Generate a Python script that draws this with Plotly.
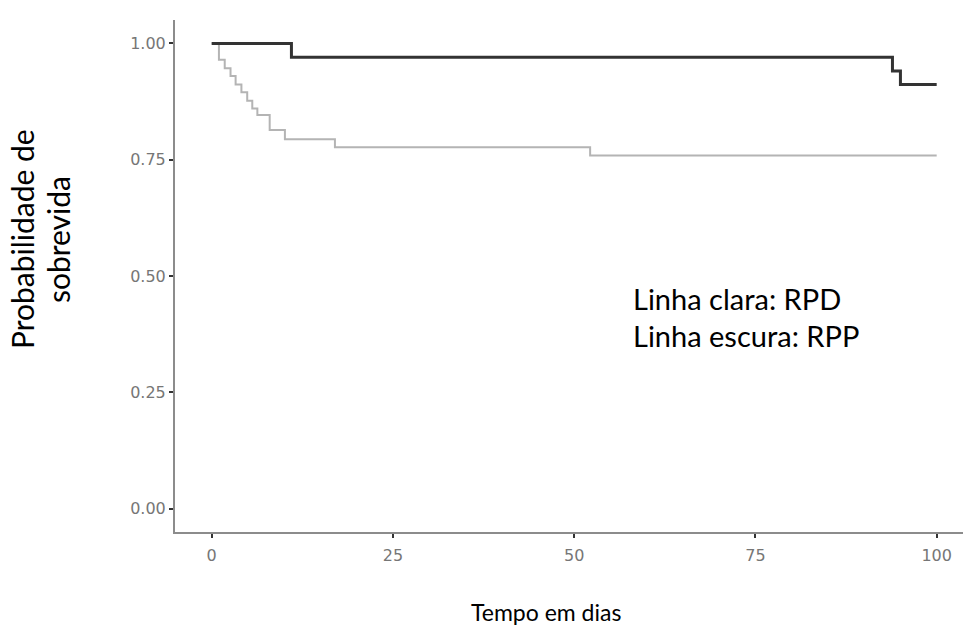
import plotly.graph_objects as go

# Kaplan-Meier curves
tempo_rpd = [0, 1.0, 1.8, 2.6, 3.3, 4.1, 4.9, 5.6, 6.3, 8.0, 10.1, 17.0, 52.2, 100]
surv_rpd = [1.0, 0.965, 0.947, 0.930, 0.912, 0.895, 0.877, 0.860, 0.846, 0.814, 0.794, 0.777, 0.759, 0.759]

tempo_rpp = [0, 11.0, 93.9, 95.0, 100]
surv_rpp = [1.0, 0.9706, 0.941, 0.912, 0.912]

x_ticks = [0, 25, 50, 75, 100]
x_ticktext = ["0", "25", "50", "75", "100"]
y_ticks = [0, 0.25, 0.5, 0.75, 1.0]
y_ticktext = ["0.00", "0.25", "0.50", "0.75", "1.00"]

x_title = "Tempo em dias"
y_title_lines = ["Probabilidade de", "sobrevida"]
legend_lines = ["Linha clara: RPD", "Linha escura: RPP"]

W, H = 963, 628
ML, MR, MT, MB = 175, 0, 20, 96
PW, PH = W - ML - MR, H - MT - MB


def px(xp):
    return (xp - ML) / PW


def py(yp):
    return (H - MB - yp) / PH


fig = go.Figure()
fig.add_trace(go.Scatter(
    x=tempo_rpd, y=surv_rpd, mode="lines",
    line=dict(shape="hv", color="#b4b4b4", width=2),
    hoverinfo="x+y", name="RPD"))
fig.add_trace(go.Scatter(
    x=tempo_rpp, y=surv_rpp, mode="lines",
    line=dict(shape="hv", color="#333333", width=3),
    hoverinfo="x+y", name="RPP"))

tick_font = dict(family="DejaVu Sans", size=16, color="#767676")
title_font = "Lato, Carlito, Calibri, sans-serif"

fig.update_layout(
    width=W, height=H,
    margin=dict(l=ML, r=MR, t=MT, b=MB, pad=0),
    paper_bgcolor="white", plot_bgcolor="white",
    showlegend=False,
    xaxis=dict(range=[-5.06, 103.63], tickvals=x_ticks, ticktext=x_ticktext,
               showgrid=False, zeroline=False, showline=True,
               linecolor="#8c8c8c", linewidth=2,
               ticks="outside", ticklen=4, tickwidth=1.5, tickcolor="#333333",
               ticklabelstandoff=4,
               tickfont=tick_font, fixedrange=True),
    yaxis=dict(range=[-0.0505, 1.0505], tickvals=y_ticks, ticktext=y_ticktext,
               showgrid=False, zeroline=False, showline=True,
               linecolor="#8c8c8c", linewidth=2,
               ticks="outside", ticklen=4, tickwidth=1.5, tickcolor="#333333",
               tickfont=tick_font, fixedrange=True),
    annotations=[
        dict(text=x_title, xref="paper", yref="paper", x=px(546), y=py(612),
             xanchor="center", yanchor="middle", showarrow=False,
             font=dict(family=title_font, size=23, color="#000000")),
        dict(text=y_title_lines[0], xref="paper", yref="paper", x=px(22), y=py(239),
             xanchor="center", yanchor="middle", showarrow=False, textangle=-90,
             font=dict(family=title_font, size=30, color="#000000")),
        dict(text=y_title_lines[1], xref="paper", yref="paper", x=px(58), y=py(240),
             xanchor="center", yanchor="middle", showarrow=False, textangle=-90,
             font=dict(family=title_font, size=30, color="#000000")),
        dict(text=legend_lines[0], xref="paper", yref="paper", x=px(631), y=py(298),
             xanchor="left", yanchor="middle", showarrow=False,
             font=dict(family=title_font, size=29, color="#000000")),
        dict(text=legend_lines[1], xref="paper", yref="paper", x=px(631), y=py(335),
             xanchor="left", yanchor="middle", showarrow=False,
             font=dict(family=title_font, size=29, color="#000000")),
    ],
)

fig.write_html(
    "out.html",
    config={"displayModeBar": False},
    post_script="document.body.style.margin='0';document.body.style.padding='0';",
)
